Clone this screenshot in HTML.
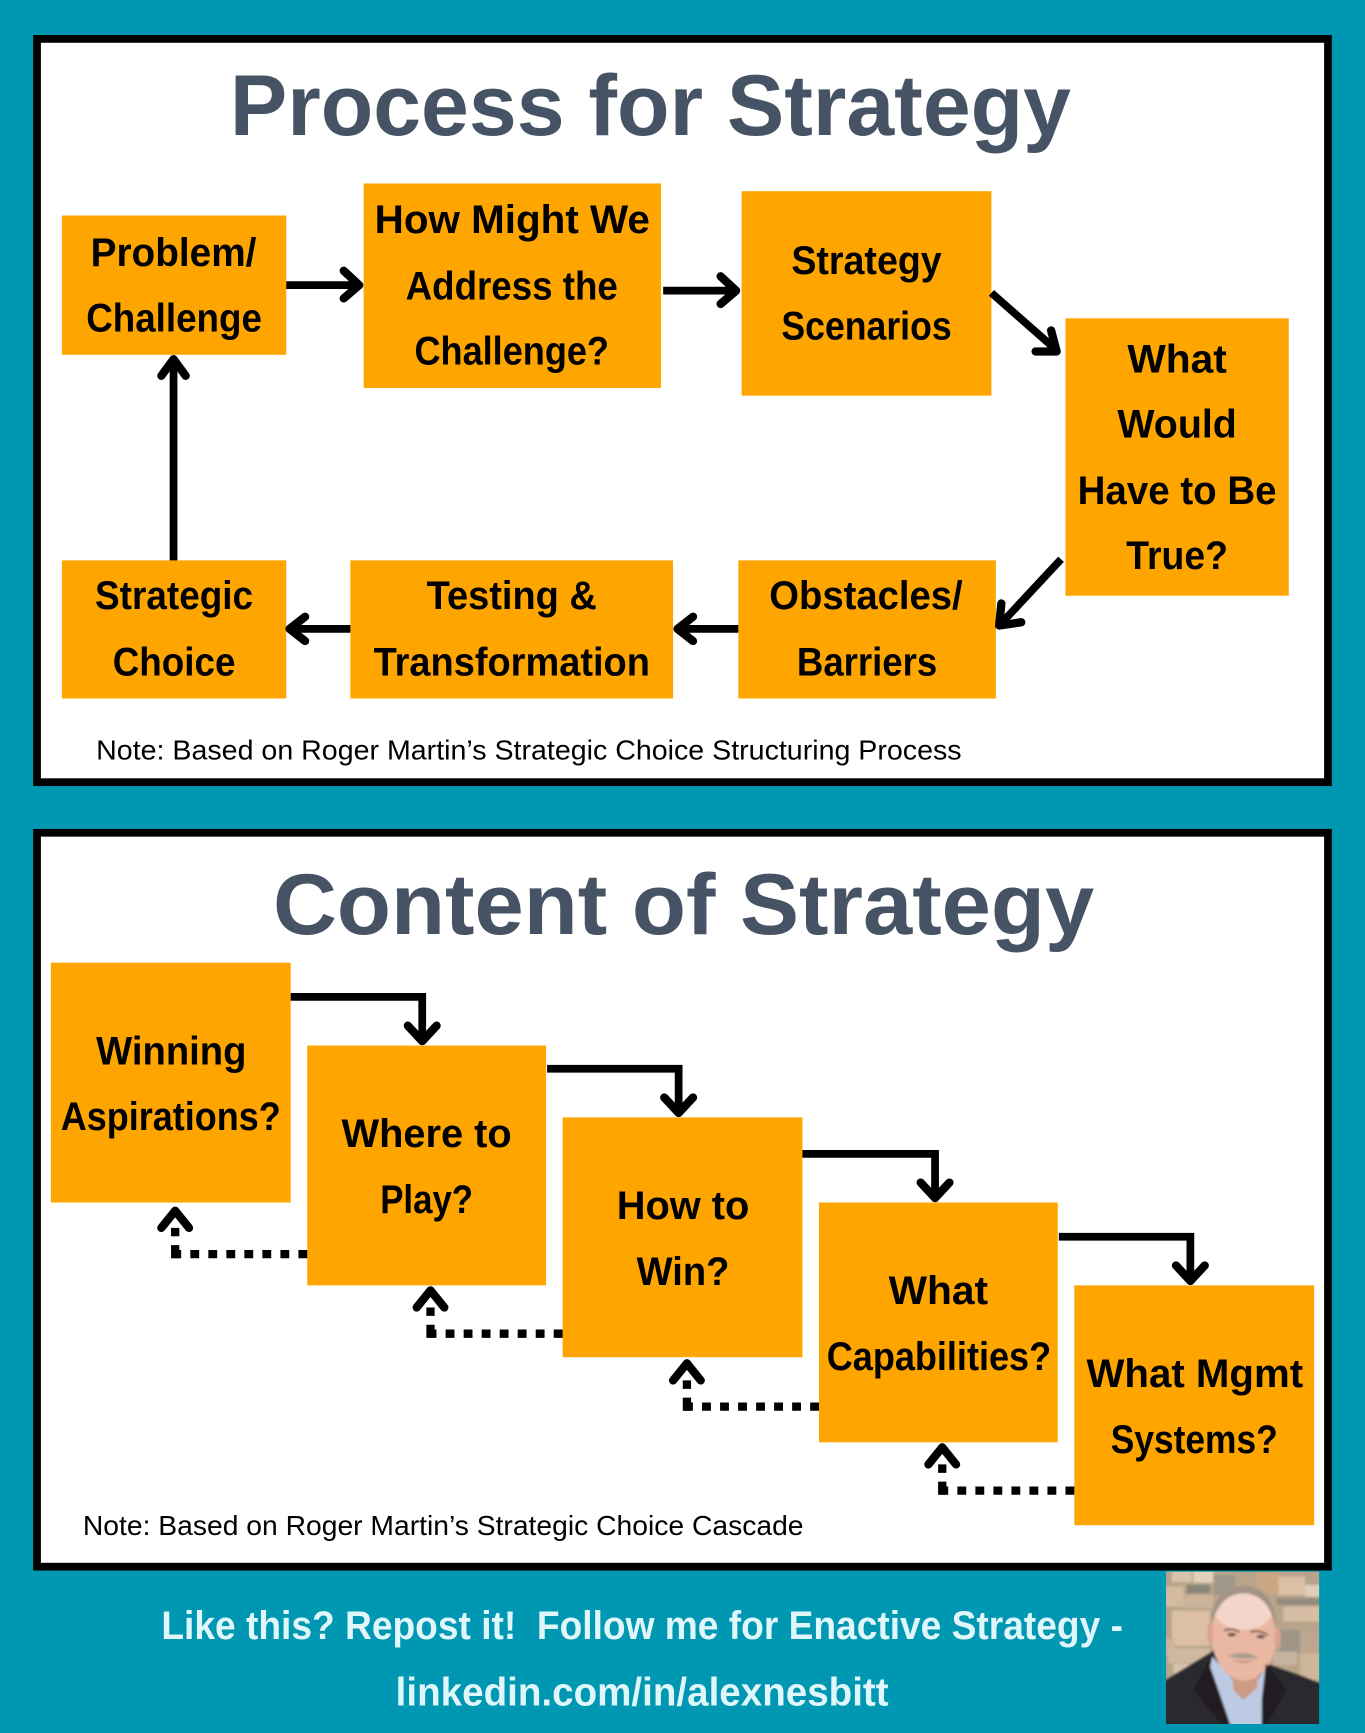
<!DOCTYPE html>
<html><head><meta charset="utf-8"><title>Process and Content of Strategy</title>
<style>
html,body{margin:0;padding:0;background:#0097b2}
svg{display:block}
.b{font-family:"Liberation Sans",sans-serif;font-weight:700;font-size:36px;fill:#000}
.t{font-family:"Liberation Sans",sans-serif;font-weight:700;font-size:78px;fill:#455364}
.n{font-family:"Liberation Sans",sans-serif;font-size:25px;fill:#000}
.f{font-family:"Liberation Sans",sans-serif;font-weight:700;font-size:36px;fill:#dff6fa}
.a{fill:none;stroke:#000;stroke-width:7;stroke-linecap:butt;stroke-linejoin:miter}
.h{fill:none;stroke:#000;stroke-width:7.500;stroke-linecap:round;stroke-linejoin:round}
.d{fill:none;stroke:#000;stroke-width:7.500}
</style></head><body>
<svg xmlns="http://www.w3.org/2000/svg" width="1365" height="1733" viewBox="0 0 1235 1568" preserveAspectRatio="none">
<defs>
<filter id="bl" x="-5%" y="-5%" width="110%" height="110%"><feGaussianBlur stdDeviation="3.500"/></filter>
<clipPath id="pc"><rect x="198" y="155" width="459" height="457"/></clipPath>
</defs>
<rect width="1235" height="1568" fill="#0097b2"/>
<rect x="33.500" y="35.200" width="1168" height="672.500" fill="#fff" stroke="#000" stroke-width="7"/>
<rect x="33.500" y="753.500" width="1168" height="664" fill="#fff" stroke="#000" stroke-width="7"/>

<text class="t" x="208" y="122" textLength="761" lengthAdjust="spacingAndGlyphs">Process for Strategy</text>
<text class="t" x="247" y="845" textLength="743" lengthAdjust="spacingAndGlyphs">Content of Strategy</text>

<g fill="#ffa500">
<rect x="56" y="195" width="203" height="126"/>
<rect x="329" y="166" width="269" height="185"/>
<rect x="671" y="173" width="226" height="185"/>
<rect x="964" y="288" width="202" height="251"/>
<rect x="668" y="507" width="233" height="125"/>
<rect x="317" y="507" width="292" height="125"/>
<rect x="56" y="507" width="203" height="125"/>
<rect x="46" y="871" width="217" height="217"/>
<rect x="278" y="946" width="216" height="217"/>
<rect x="509" y="1011" width="217" height="217"/>
<rect x="741" y="1088" width="216" height="217"/>
<rect x="972" y="1163" width="217" height="217"/>
</g>

<g transform="translate(0 -1)">
<text class="b" x="82" y="241.500" textLength="150" lengthAdjust="spacingAndGlyphs">Problem/</text>
<text class="b" x="78" y="301" textLength="159" lengthAdjust="spacingAndGlyphs">Challenge</text>
<text class="b" x="339" y="212" textLength="249" lengthAdjust="spacingAndGlyphs">How Might We</text>
<text class="b" x="367" y="272" textLength="192" lengthAdjust="spacingAndGlyphs">Address the</text>
<text class="b" x="375" y="331" textLength="176" lengthAdjust="spacingAndGlyphs">Challenge?</text>
<text class="b" x="716" y="249" textLength="136" lengthAdjust="spacingAndGlyphs">Strategy</text>
<text class="b" x="707" y="308" textLength="154" lengthAdjust="spacingAndGlyphs">Scenarios</text>
<text class="b" x="1020" y="338" textLength="90" lengthAdjust="spacingAndGlyphs">What</text>
<text class="b" x="1011" y="397" textLength="108" lengthAdjust="spacingAndGlyphs">Would</text>
<text class="b" x="975" y="457" textLength="180" lengthAdjust="spacingAndGlyphs">Have to Be</text>
<text class="b" x="1019" y="516" textLength="92" lengthAdjust="spacingAndGlyphs">True?</text>
<text class="b" x="696" y="552" textLength="175" lengthAdjust="spacingAndGlyphs">Obstacles/</text>
<text class="b" x="721" y="612" textLength="127" lengthAdjust="spacingAndGlyphs">Barriers</text>
<text class="b" x="386" y="552" textLength="154" lengthAdjust="spacingAndGlyphs">Testing &amp;</text>
<text class="b" x="338" y="612" textLength="250" lengthAdjust="spacingAndGlyphs">Transformation</text>
<text class="b" x="86" y="552" textLength="143" lengthAdjust="spacingAndGlyphs">Strategic</text>
<text class="b" x="102" y="612" textLength="111" lengthAdjust="spacingAndGlyphs">Choice</text>
<text class="b" x="87" y="964" textLength="136" lengthAdjust="spacingAndGlyphs">Winning</text>
<text class="b" x="55" y="1023.500" textLength="199" lengthAdjust="spacingAndGlyphs">Aspirations?</text>
<text class="b" x="309" y="1039" textLength="154" lengthAdjust="spacingAndGlyphs">Where to</text>
<text class="b" x="344" y="1098.500" textLength="84" lengthAdjust="spacingAndGlyphs">Play?</text>
<text class="b" x="558" y="1104" textLength="120" lengthAdjust="spacingAndGlyphs">How to</text>
<text class="b" x="576" y="1163.500" textLength="84" lengthAdjust="spacingAndGlyphs">Win?</text>
<text class="b" x="804" y="1181" textLength="90" lengthAdjust="spacingAndGlyphs">What</text>
<text class="b" x="748" y="1240.500" textLength="203" lengthAdjust="spacingAndGlyphs">Capabilities?</text>
<text class="b" x="983" y="1256" textLength="196" lengthAdjust="spacingAndGlyphs">What Mgmt</text>
<text class="b" x="1005" y="1315.500" textLength="151" lengthAdjust="spacingAndGlyphs">Systems?</text>
</g>

<text class="n" x="87" y="687" textLength="783" lengthAdjust="spacingAndGlyphs">Note: Based on Roger Martin’s Strategic Choice Structuring Process</text>
<text class="n" x="75" y="1389" textLength="652" lengthAdjust="spacingAndGlyphs">Note: Based on Roger Martin’s Strategic Choice Cascade</text>

<text class="f" x="146" y="1483" textLength="870" lengthAdjust="spacingAndGlyphs">Like this? Repost it!&#160; Follow me for Enactive Strategy -</text>
<text class="f" x="358" y="1543" textLength="446" lengthAdjust="spacingAndGlyphs">linkedin.com/in/alexnesbitt</text>

<!-- process arrows -->
<path class="a" d="M259 258H323M600 263H664M897 265L955 316M960 506L905 565M668 569H615M317 569H264M157 507V327"/>
<path class="h" d="M311 245L325 258L311 270"/>
<path class="h" d="M652 250L666 263L652 275"/>
<path class="h" d="M937 318L956 318L951 299"/>
<path class="h" d="M906 546L904 566L924 563"/>
<path class="h" d="M627 558L613 569L627 580"/>
<path class="h" d="M276 558L262 569L276 580"/>
<path class="h" d="M146 340L157 325L168 340"/>

<!-- cascade solid -->
<path class="a" d="M263 902H382V940M495 967H614V1005M726 1044H846V1082M958 1119H1077V1157"/>
<path class="h" d="M369 928L382 942L395 928"/>
<path class="h" d="M601 993L614 1007L627 993"/>
<path class="h" d="M833 1070L846 1084L859 1070"/>
<path class="h" d="M1064 1145L1077 1159L1090 1145"/>

<!-- cascade dotted -->
<g id="dt">
<path class="d" d="M278 1134.700H155" stroke-dasharray="8 8.300"/>
<path class="d" d="M158.500 1138.400V1126.600M158.500 1118.600V1111"/>
<path class="h" d="M146 1111L158.500 1095.500L171 1111"/>
</g>
<g transform="translate(231 72)">
<path class="d" d="M278 1134.700H155" stroke-dasharray="8 8.300"/>
<path class="d" d="M158.500 1138.400V1126.600M158.500 1118.600V1111"/>
<path class="h" d="M146 1111L158.500 1095.500L171 1111"/>
</g>
<g transform="translate(463 138)">
<path class="d" d="M278 1134.700H155" stroke-dasharray="8 8.300"/>
<path class="d" d="M158.500 1138.400V1126.600M158.500 1118.600V1111"/>
<path class="h" d="M146 1111L158.500 1095.500L171 1111"/>
</g>
<g transform="translate(694 214)">
<path class="d" d="M278 1134.700H155" stroke-dasharray="8 8.300"/>
<path class="d" d="M158.500 1138.400V1126.600M158.500 1118.600V1111"/>
<path class="h" d="M146 1111L158.500 1095.500L171 1111"/>
</g>

<!-- portrait built from vector shapes -->
<g transform="translate(1055 1422) scale(.3017) translate(-198 -155)" clip-path="url(#pc)">
<g filter="url(#bl)">
<rect x="170" y="130" width="520" height="510" fill="#b8a48a"/>
<rect x="215" y="150" width="60" height="36" fill="#d8c4ab"/><rect x="280" y="150" width="60" height="38" fill="#e2d0ba"/>
<rect x="340" y="165" width="65" height="60" fill="#a0978a"/><rect x="470" y="155" width="65" height="70" fill="#cba684"/>
<rect x="535" y="170" width="80" height="55" fill="#dcc0a6"/><rect x="615" y="195" width="50" height="35" fill="#dfcdb8"/>
<rect x="190" y="200" width="60" height="60" fill="#d4bb9f"/><rect x="260" y="195" width="70" height="25" fill="#878479"/>
<rect x="250" y="225" width="90" height="40" fill="#cbb49a"/><rect x="550" y="260" width="115" height="45" fill="#d6bda3"/>
<rect x="215" y="272" width="115" height="105" fill="#dcbfa5"/><rect x="530" y="235" width="135" height="20" fill="#908b7d"/>
<rect x="190" y="355" width="35" height="50" fill="#cdb499"/><rect x="205" y="385" width="125" height="45" fill="#cfb9a0"/>
<rect x="540" y="330" width="60" height="70" fill="#9f9587"/><rect x="600" y="340" width="65" height="50" fill="#bda78f"/>
<rect x="520" y="395" width="70" height="40" fill="#c6b3a0"/><rect x="600" y="400" width="65" height="80" fill="#cfb69b"/>
<rect x="220" y="432" width="95" height="28" fill="#d7c4ac"/>
<path d="M170 495L335 395L390 360H480L500 430L600 465L690 500V640H170Z" fill="#2c2a2f"/>
<path d="M337 410L330 440L367 545L388 640H485L490 540L497 445L470 480H400Z" fill="#bccbe3"/>
<path d="M395 440L400 510L430 540L470 505L480 440Z" fill="#cd9a84"/>
<ellipse cx="432" cy="340" rx="98" ry="142" fill="#eab8a2"/>
<ellipse cx="430" cy="268" rx="88" ry="62" fill="#f3d6c9"/>
<path d="M335 320C328 240 375 198 430 198C490 198 532 240 528 340C520 270 490 222 430 220C375 222 345 265 335 320Z" fill="#a39487"/>
<ellipse cx="330" cy="340" rx="10" ry="32" fill="#dca48e"/><ellipse cx="532" cy="355" rx="10" ry="32" fill="#dca48e"/>
<path d="M372 332Q395 322 418 336M450 336Q478 328 503 346" stroke="#7a5e50" stroke-width="6" fill="none"/>
<ellipse cx="395" cy="344" rx="13" ry="5" fill="#55443f"/><ellipse cx="482" cy="350" rx="13" ry="5" fill="#55443f"/>
<path d="M382 408Q430 388 476 412Q430 422 382 408Z" fill="#a89a90"/>
<path d="M395 418Q430 432 465 418Q430 436 395 418Z" fill="#4a2a26"/>
<path d="M337 400L280 510L385 640L400 640L367 545L330 440Z" fill="#201e23"/>
<path d="M497 430L560 510L485 640L485 540Z" fill="#201e23"/>
</g>
</g>
</svg>
</body></html>
